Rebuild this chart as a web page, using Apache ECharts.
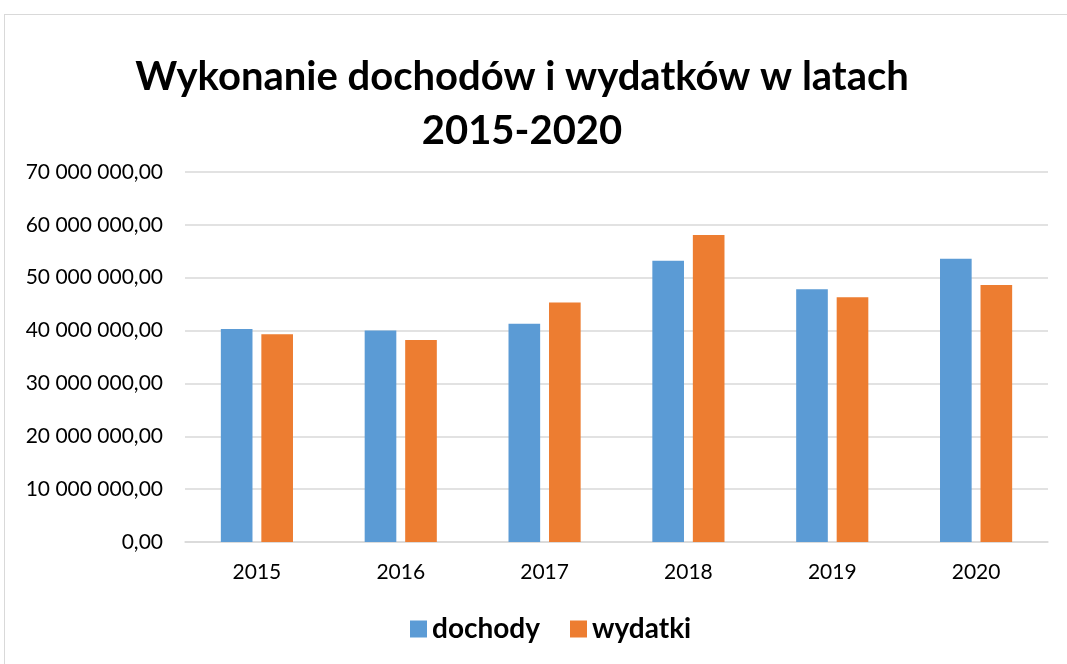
<!DOCTYPE html>
<html>
<head>
<meta charset="utf-8">
<script src="https://cdn.jsdelivr.net/npm/echarts@6/dist/echarts.min.js"></script>
<style>
  html, body { margin: 0; padding: 0; background: #fff; }
  #frame {
    position: absolute; left: 4px; top: 14px; width: 1080px; height: 680px;
    border: 1px solid #d9d9d9; box-sizing: border-box;
  }
  #chart { position: absolute; left: 0; top: 0; width: 1067px; height: 664px; }
</style>
</head>
<body>
<div id="frame"></div>
<div id="chart"></div>
<script>
const years = ['2015', '2016', '2017', '2018', '2019', '2020']
const dochody = [40300000, 40000000, 41300000, 53200000, 47800000, 53600000]
const wydatki = [39300000, 38200000, 45300000, 58100000, 46300000, 48600000]

const fmt = v => {
  const s = Math.round(v).toString().replace(/\B(?=(\d{3})+(?!\d))/g, ' ')
  return s + ',00'
}

const chart = echarts.init(document.getElementById('chart'))

chart.setOption({
  backgroundColor: 'transparent',
  animation: false,
  title: {
    text: 'Wykonanie dochodów i wydatków w latach\n2015-2020',
    left: 517,
    top: 45,
    textAlign: 'center',
    textStyle: {
      fontFamily: 'Lato',
      fontWeight: 'bold',
      fontSize: 40,
      lineHeight: 54,
      color: '#000'
    }
  },
  legend: {
    data: ['dochody', 'wydatki'],
    bottom: 16,
    left: 405,
    itemWidth: 17,
    itemHeight: 17,
    itemGap: 30,
    icon: 'rect',
    textStyle: {
      fontFamily: 'Lato',
      fontWeight: 'bold',
      fontSize: 28,
      color: '#000'
    }
  },
  grid: {
    left: 185,
    right: 19,
    top: 172,
    bottom: 122
  },
  xAxis: {
    type: 'category',
    data: years,
    axisLine: { lineStyle: { color: '#d9d9d9', width: 1.5 } },
    axisTick: { show: false },
    axisLabel: {
      fontFamily: 'Lato',
      fontSize: 21,
      color: '#000',
      margin: 20
    }
  },
  yAxis: {
    type: 'value',
    min: 0,
    max: 70000000,
    interval: 10000000,
    axisLine: { show: false },
    axisTick: { show: false },
    splitLine: { lineStyle: { color: '#d9d9d9', width: 1.5 } },
    axisLabel: {
      fontFamily: 'Lato',
      fontSize: 21,
      color: '#000',
      margin: 22,
      formatter: fmt
    }
  },
  series: [
    {
      name: 'dochody',
      type: 'bar',
      data: dochody,
      barWidth: '22%',
      barGap: '28%',
      itemStyle: { color: '#5b9bd5' }
    },
    {
      name: 'wydatki',
      type: 'bar',
      data: wydatki,
      barWidth: '22%',
      itemStyle: { color: '#ed7d31' }
    }
  ]
})
</script>
</body>
</html>
